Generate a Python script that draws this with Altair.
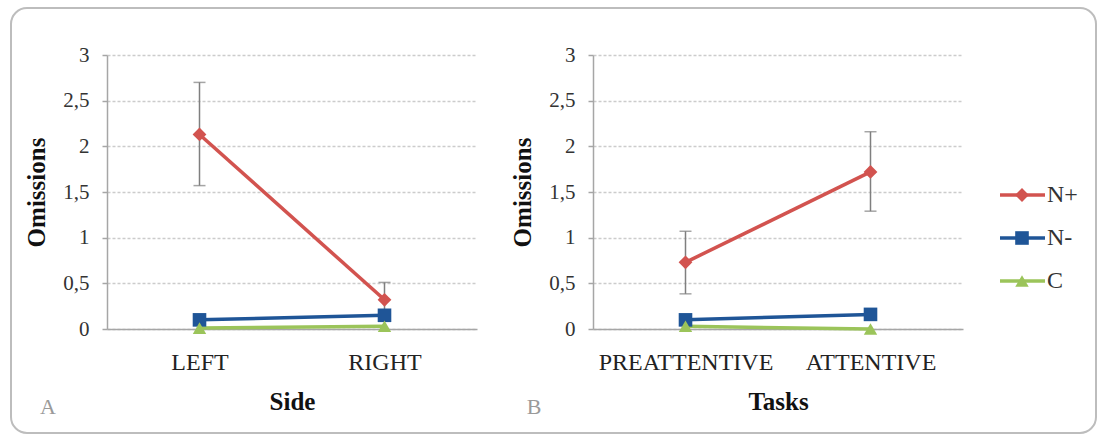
import altair as alt
import pandas as pd

# ---------------- data ----------------
series = ["N+", "N-", "C"]
colors = ["#D2534F", "#1F5597", "#9BC45A"]
shapes = ["diamond", "square", "triangle-up"]
sizes = [190, 180, 160]

sides = ["LEFT", "RIGHT"]
a_nplus = [2.13, 0.32]
a_nplus_lo = [1.57, 0.13]
a_nplus_hi = [2.70, 0.51]
a_nminus = [0.10, 0.15]
a_c = [0.01, 0.03]

tasks = ["PREATTENTIVE", "ATTENTIVE"]
b_nplus = [0.73, 1.72]
b_nplus_lo = [0.385, 1.29]
b_nplus_hi = [1.07, 2.16]
b_nminus = [0.10, 0.16]
b_c = [0.03, 0.0]

y_ticks = [0, 0.5, 1, 1.5, 2, 2.5, 3]
letters = ["A", "B"]
x_titles = ["Side", "Tasks"]

FONT = "Liberation Serif"
W, H = 370, 274

color_scale = alt.Scale(domain=series, range=colors)
shape_scale = alt.Scale(domain=series, range=shapes)
size_scale = alt.Scale(domain=series, range=sizes)


def make_df(cats, nplus, nminus, c):
    rows = []
    for s, vals in zip(series, [nplus, nminus, c]):
        for cat, v in zip(cats, vals):
            rows.append({"cat": cat, "series": s, "value": v})
    return pd.DataFrame(rows)


def make_err(cats, lo, hi):
    return pd.DataFrame({"cat": cats, "lo": lo, "hi": hi})


def panel(cats, nplus, lo, hi, nminus, c, xtitle, letter):
    df = make_df(cats, nplus, nminus, c)
    err = make_err(cats, lo, hi)
    x = alt.X(
        "cat:N",
        sort=cats,
        scale=alt.Scale(type="point", padding=0.5, domain=cats),
        axis=alt.Axis(
            title=xtitle, labelAngle=0, labelAlign="center", labelBaseline="middle",
            ticks=False, labelPadding=33,
            labelFontSize=24, labelColor="#222222", labelFont=FONT,
            titleFont=FONT, titleFontSize=25, titleFontWeight="bold",
            titleColor="#111111", titleY=72, titleBaseline="middle",
            domainColor="#a6a6a6", domainWidth=1.5, grid=False,
        ),
    )
    y_axis = alt.Axis(
        values=y_ticks, title="Omissions",
        labelExpr="replace(format(datum.value, '~g'), '.', ',')",
        labelFontSize=21, labelColor="#333333", labelFont=FONT,
        labelPadding=13, tickSize=5, tickColor="#a6a6a6", tickWidth=1.5,
        domainColor="#a6a6a6", domainWidth=1.5,
        grid=True, gridColor="#cccccc", gridDash=[3, 2], gridWidth=1.3,
        titleFont=FONT, titleFontSize=25, titleFontWeight="bold",
        titleColor="#111111", titleX=-71, titleY=H / 2, titleBaseline="middle",
    )
    y = alt.Y("value:Q", scale=alt.Scale(domain=[0, 3], nice=False), axis=y_axis)

    base = alt.Chart(df).encode(x=x, y=y)
    ebase = alt.Chart(err).encode(x=alt.X("cat:N", sort=cats))
    erule = ebase.mark_rule(color="#7f7f7f", strokeWidth=1.5).encode(
        y=alt.Y("lo:Q"), y2="hi:Q")
    ecap_lo = ebase.mark_tick(color="#7f7f7f", thickness=1.5, size=12).encode(y="lo:Q")
    ecap_hi = ebase.mark_tick(color="#7f7f7f", thickness=1.5, size=12).encode(y="hi:Q")

    lines = base.mark_line(strokeWidth=3.5).encode(
        color=alt.Color("series:N", scale=color_scale, legend=None),
        detail="series:N",
    )
    points = base.mark_point(filled=True, opacity=1).encode(
        color=alt.Color("series:N", scale=color_scale, legend=None),
        shape=alt.Shape("series:N", scale=shape_scale, legend=None),
        size=alt.Size("series:N", scale=size_scale, legend=None),
    )
    letter_txt = alt.Chart(pd.DataFrame({"t": [letter]})).mark_text(
        font=FONT, fontSize=22, color="#9a9a9a", align="center", baseline="middle"
    ).encode(x=alt.value(-59), y=alt.value(352), text="t:N")
    return alt.layer(erule, ecap_lo, ecap_hi, lines, points, letter_txt).properties(
        width=W, height=H)


# border (decorative frame around whole figure)
border = alt.Chart(pd.DataFrame({"k": [0]})).mark_rect(
    fill="transparent", stroke="#bdbdbd", strokeWidth=2, cornerRadius=16
).encode(x=alt.value(-96), x2=alt.value(989), y=alt.value(-47), y2=alt.value(378))

pA = alt.layer(
    panel(sides, a_nplus, a_nplus_lo, a_nplus_hi, a_nminus, a_c, x_titles[0], letters[0]),
    border,
)

pB_data = panel(tasks, b_nplus, b_nplus_lo, b_nplus_hi, b_nminus, b_c, x_titles[1], letters[1])

# hand-built legend (line + marker + label)
leg_df = pd.DataFrame({"series": series})
leg_y = alt.Y("series:N", sort=series,
              scale=alt.Scale(type="point", domain=series, range=[140, 226], padding=0),
              axis=None)
leg_base = alt.Chart(leg_df).encode(y=leg_y)
leg_lines = leg_base.mark_rule(strokeWidth=3.5).encode(
    x=alt.value(407), x2=alt.value(452),
    color=alt.Color("series:N", scale=color_scale, legend=None))
leg_pts = leg_base.mark_point(filled=True, opacity=1).encode(
    x=alt.value(429),
    color=alt.Color("series:N", scale=color_scale, legend=None),
    shape=alt.Shape("series:N", scale=shape_scale, legend=None),
    size=alt.Size("series:N", scale=size_scale, legend=None))
leg_txt = leg_base.mark_text(font=FONT, fontSize=24, color="#333333",
                             align="left", baseline="middle").encode(
    x=alt.value(454), text="series:N")
legend = alt.layer(leg_lines, leg_pts, leg_txt)

pB = alt.layer(pB_data, legend).resolve_scale(y="independent")

chart = alt.hconcat(pA, pB, spacing=116, bounds="flush").properties(
    padding={"left": 10, "top": 7, "right": 0, "bottom": 0},
    background="white",
).configure_view(stroke=None)

chart.save("out.html", embed_options={"renderer": "svg", "actions": False})
